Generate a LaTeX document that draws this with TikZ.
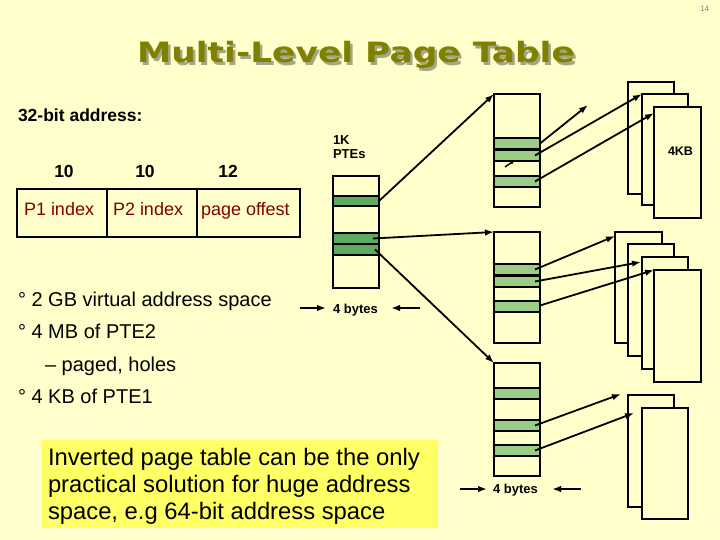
\documentclass[tikz,border=0pt]{standalone}
\usepackage{fontspec}
\setmainfont{Liberation Sans}
\newfontfamily\titlefont{DejaVu Sans}
\usetikzlibrary{arrows.meta}
\definecolor{bg}{RGB}{255,255,204}
\definecolor{hl}{RGB}{255,255,102}
\definecolor{titleol}{RGB}{128,128,0}
\definecolor{tshadow}{RGB}{165,165,135}
\definecolor{dred}{RGB}{128,0,0}
\definecolor{gmid}{RGB}{95,170,95}
\definecolor{gright}{RGB}{155,205,135}
\definecolor{pnum}{RGB}{130,130,130}
\newcommand\mytitletext{\scalebox{1.23}[1]{\fontsize{28}{32}\titlefont\bfseries Multi-Level Page Table}}
\newcommand\mytitleshadowed{\makebox[0pt][l]{\hspace{2.5pt}\raisebox{-2.5pt}{\color{tshadow}\mytitletext}}{\color{titleol}\mytitletext}}
\begin{document}
\begin{tikzpicture}[x=1pt,y=-1pt,
  box/.style={draw,line width=2.4pt,fill=bg,inner sep=0pt,outer sep=0pt,anchor=north west},
  tbl/.style={box,minimum width=46pt,minimum height=112pt},
  pg/.style={box,minimum width=46pt,minimum height=112pt},
  gm/.style={box,fill=gmid,minimum width=46pt,minimum height=11pt},
  gr/.style={box,fill=gright,minimum width=46pt,minimum height=11pt},
  arr/.style={line width=1.8pt,-{Latex[length=9pt,width=6.5pt]}},
  sarr/.style={line width=1.4pt,-{Latex[length=5pt,width=4pt]}},
  txt/.style={inner sep=0pt,outer sep=0pt,anchor=base west},
  bul/.style={txt,font=\fontsize{20}{24}\selectfont},
  lbl/.style={txt,font=\fontsize{13}{14}\selectfont\bfseries}
]
\useasboundingbox (0,0) rectangle (720,540);
\fill[bg] (0,0) rectangle (720,540);

% page number and title
\node[txt,anchor=base east,text=pnum,font=\fontsize{8}{9}\selectfont] (pno) at (709,12) {14};
\node[inner sep=0pt,anchor=base] (title) at (356,63) {\mytitleshadowed};

% address
\node[txt,font=\fontsize{17.5}{20}\selectfont\bfseries] (addr) at (18,122) {32-bit address:};
\node[inner sep=0pt,anchor=base,font=\fontsize{17.5}{20}\selectfont\bfseries] (b1) at (64,178) {10};
\node[inner sep=0pt,anchor=base,font=\fontsize{17.5}{20}\selectfont\bfseries] (b2) at (145,178) {10};
\node[inner sep=0pt,anchor=base,font=\fontsize{17.5}{20}\selectfont\bfseries] (b3) at (228,178) {12};
\node[box,fill=none,minimum width=90pt,minimum height=48pt] (f1) at (17,189) {};
\node[box,fill=none,minimum width=90pt,minimum height=48pt] (f2) at (107,189) {};
\node[box,fill=none,minimum width=103pt,minimum height=48pt] (f3) at (197,189) {};
\node[txt,text=dred,font=\fontsize{18}{21}\selectfont] (t1) at (24,215) {P1 index};
\node[txt,text=dred,font=\fontsize{18}{21}\selectfont] (t2) at (113,215) {P2 index};
\node[txt,text=dred,font=\fontsize{18}{21}\selectfont] (t3) at (201,215) {page offest};

% bullets
\node[bul] (l1) at (18,306) {° 2 GB virtual address space};
\node[bul] (l2) at (18,338) {° 4 MB of PTE2};
\node[bul] (l3) at (45,371) {– paged, holes};
\node[bul] (l4) at (18,403) {° 4 KB of PTE1};

% highlighted note
\node[box,draw=none,fill=hl,minimum width=396pt,minimum height=88pt] (ybox) at (42,440) {};
\node[txt,font=\fontsize{23.8}{27}\selectfont] (y1) at (48,465) {Inverted page table can be the only};
\node[txt,font=\fontsize{23.8}{27}\selectfont] (y2) at (48,492) {practical solution for huge address};
\node[txt,font=\fontsize{23.8}{27}\selectfont] (y3) at (48,519) {space, e.g 64-bit address space};

% first level table
\node[lbl] (k1) at (333,145) {1K};
\node[lbl] (k2) at (333,159) {PTEs};
\node[tbl] (M) at (333,176) {};
\node[gm,minimum height=10pt] (M1) at (333,196) {};
\node[gm] (M2) at (333,233) {};
\node[gm] (M3) at (333,244) {};
\node[lbl] (bytesM) at (333,313) {4 bytes};
\coordinate (bmL) at (300,308);
\coordinate (bmLt) at (326,308);
\coordinate (bmR) at (420,308);
\coordinate (bmRt) at (391,308);
\draw[arr] (bmL) -- (bmLt);
\draw[arr] (bmR) -- (bmRt);

% second level tables
\node[tbl,minimum height=113pt] (A) at (494,94) {};
\node[gr] (A1) at (494,138) {};
\node[gr] (A2) at (494,150) {};
\node[gr] (A3) at (494,176) {};
\node[tbl,minimum height=111pt] (B) at (494,232) {};
\node[gr] (B1) at (494,264) {};
\node[gr] (B2) at (494,276) {};
\node[gr] (B3) at (494,301) {};
\node[tbl,minimum height=113pt] (C) at (494,363) {};
\node[gr] (C1) at (494,388) {};
\node[gr] (C2) at (494,420) {};
\node[gr] (C3) at (494,445) {};
\node[lbl] (bytesC) at (493,493) {4 bytes};
\coordinate (bcL) at (460,489);
\coordinate (bcLt) at (487,489);
\coordinate (bcR) at (581,489);
\coordinate (bcRt) at (552,489);
\draw[arr] (bcL) -- (bcLt);
\draw[arr] (bcR) -- (bcRt);

% pages
\node[pg] (PA1) at (628,82) {};
\node[pg,minimum height=111pt] (PA2) at (642,94) {};
\node[pg,minimum width=47pt,minimum height=111pt] (PA3) at (654,107) {};
\node[lbl,font=\fontsize{12.5}{14}\selectfont\bfseries] (kb) at (668,156) {4KB};
\node[pg,minimum width=47pt,minimum height=111pt] (PB1) at (615,232) {};
\node[pg] (PB2) at (628,244) {};
\node[pg] (PB3) at (642,257) {};
\node[pg,minimum width=47pt] (PB4) at (654,270) {};
\node[pg] (PC1) at (628,395) {};
\node[pg,minimum height=111pt] (PC2) at (642,408) {};

% arrows from first level
\draw[arr] (M1.east) -- (A.north west);
\draw[arr] ([xshift=-6pt]M2.east) -- (B.north west);
\draw[arr] ([xshift=-4pt]M3.east) -- (C.north west);

% arrows from table A
\coordinate (freeA) at (588,105);
\draw[arr] (A1.east) -- (freeA);
\draw[arr] ([xshift=-5pt]A2.east) -- (PA2.north west);
\draw[arr] ([xshift=-5pt]A3.east) -- ([yshift=-6pt]PA3.north west);
\coordinate (stubA) at (505,167);
\coordinate (stubAt) at (515,160);
\draw[sarr] (stubA) -- (stubAt);

% arrows from table B
\draw[arr] ([xshift=-5pt]B1.east) -- ([yshift=-4pt]PB1.north west);
\draw[arr] ([xshift=-5pt]B2.east) -- ([xshift=-1pt,yshift=-5pt]PB3.north west);
\draw[arr] ([yshift=1pt]B3.east) -- (PB4.north west);

% arrows from table C
\draw[arr] ([xshift=-5pt]C2.east) -- ([xshift=-7pt,yshift=1pt]PC1.north west);
\draw[arr] ([xshift=-5pt]C3.east) -- ([xshift=-8pt,yshift=-5pt]PC2.north west);
\end{tikzpicture}
\end{document}
